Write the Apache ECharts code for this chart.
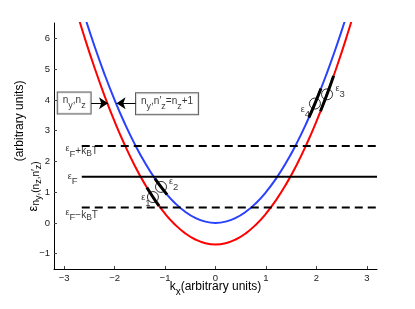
<!DOCTYPE html>
<html><head><meta charset="utf-8">
<script src="https://cdn.jsdelivr.net/npm/echarts@6/dist/echarts.min.js"></script>
<style>html,body{margin:0;padding:0;background:#fff}#c{width:415px;height:309px}</style>
</head><body><div id="c"></div>
<script>
// data
var kValues = [-2.8,-2.6,-2.4,-2.2,-2.0,-1.8,-1.6,-1.4,-1.2,-1.0,-0.8,-0.6,-0.4,-0.2,0,0.2,0.4,0.6,0.8,1.0,1.2,1.4,1.6,1.8,2.0,2.2,2.4,2.6,2.8];
var blueBand = [7.84,6.76,5.76,4.84,4.0,3.24,2.56,1.96,1.44,1.0,0.64,0.36,0.16,0.04,0,0.04,0.16,0.36,0.64,1.0,1.44,1.96,2.56,3.24,4.0,4.84,5.76,6.76,7.84];
var redBand = [7.14,6.06,5.06,4.14,3.3,2.54,1.86,1.26,0.74,0.3,-0.06,-0.34,-0.54,-0.66,-0.7,-0.66,-0.54,-0.34,-0.06,0.3,0.74,1.26,1.86,2.54,3.3,4.14,5.06,6.06,7.14];
var levelY = {upper: 2.5, fermi: 1.5, lower: 0.5};
var levelRange = [-2.65, 3.2];
var xTicks = [-3,-2,-1,0,1,2,3];
var yTicks = [-1,0,1,2,3,4,5,6];
// states (circles) and black segments along the bands
var statePoints = [[-1.24,0.84],[-1.08,1.17],[2.21,4.18],[1.97,3.88]];
var seg1 = [[-1.36,1.15],[-1.24,0.84],[-1.12,0.55]];
var seg2 = [[-1.2,1.44],[-1.08,1.17],[-0.96,0.92]];
var seg3 = [[2.08,3.63],[2.21,4.18],[2.34,4.78]];
var seg4 = [[1.85,3.42],[1.97,3.88],[2.09,4.37]];
var stateLabels = [[-1.38,0.73,'1'],[-0.83,1.24,'2'],[2.47,4.26,'3'],[1.78,3.6,'4']];
var levelLabels = [[-2.65,2.32,'upper'],[-2.83,1.42,'fermi'],[-2.65,0.25,'lower']];
var boxLeft = [-2.80,3.9];
var boxRight = [-0.96,3.87];
var arrowLeft = [[-2.47,3.89],[-2.13,3.89]];
var arrowRight = [[-1.56,3.89],[-1.96,3.89]];

var toPair = function(xs, ys){ return xs.map(function(x,i){return [x, ys[i]];}); };
var minus = function(v){ return String(v).replace('-', '\u2212'); };
var richSmall = {
  e: {fontSize: 9, fontFamily: 'Liberation Sans', color: '#000', verticalAlign: 'top', lineHeight: 15},
  s: {fontSize: 9.5, fontFamily: 'Liberation Sans', color: '#000', padding: [5,0,0,0], lineHeight: 15},
  t: {fontSize: 10, fontFamily: 'Liberation Sans', color: '#000', lineHeight: 15},
  u: {fontSize: 8.5, fontFamily: 'Liberation Sans', color: '#000', padding: [5,0,0,0], lineHeight: 15}
};
var levelText = {
  upper: '{e|\u03b5}{s|F}{t|+k}{u|B}{t|T}',
  fermi: '{e|\u03b5}{s|F}',
  lower: '{e|\u03b5}{s|F}{t|\u2212k}{u|B}{t|T}'
};

var chart = echarts.init(document.getElementById('c'), null, {renderer: 'canvas'});
var segStyle = {type:'line', smooth:true, symbol:'none', lineStyle:{color:'#000', width:3}, z:4, silent:true};
chart.setOption({
  animation: false,
  backgroundColor: '#fff',
  grid: {left: 54, right: 38, top: 23, bottom: 40},
  xAxis: {
    type: 'value', min: -3.2, max: 3.2,
    axisLine: {onZero: false, lineStyle: {color: '#000', width: 1}},
    axisTick: {customValues: xTicks, inside: true, length: 3, lineStyle: {color: '#444'}},
    axisLabel: {customValues: xTicks, formatter: minus, fontSize: 9.5, color: '#222', fontFamily: 'Liberation Sans', margin: 4},
    splitLine: {show: false},
    name: '{k|k}{x|x}{k|(arbitrary units)}', nameLocation: 'middle', nameGap: 12, nameMoveOverlap: false,
    nameTextStyle: {rich: {
      k: {fontSize: 12, fontFamily: 'Liberation Sans', color: '#000', lineHeight: 16, verticalAlign: 'top'},
      x: {fontSize: 10, fontFamily: 'Liberation Sans', color: '#000', padding: [7,0,0,0], lineHeight: 16}
    }}
  },
  yAxis: {
    type: 'value', min: -1.5, max: 6.5,
    axisLine: {onZero: false, lineStyle: {color: '#000', width: 1}},
    axisTick: {customValues: yTicks, inside: true, length: 3, lineStyle: {color: '#444'}},
    axisLabel: {customValues: yTicks, formatter: minus, fontSize: 9.5, color: '#222', fontFamily: 'Liberation Sans', margin: 4},
    splitLine: {show: false},
    name: '{e|\u03b5}{n|n}{y|y}{n|,(n}{y|z}{n|,n\u2032}{y|z}{n|)}{k|(arbitrary units)}',
    nameLocation: 'middle', nameRotate: 90, nameGap: 10, nameMoveOverlap: false,
    nameTextStyle: {rich: {
      e: {fontSize: 13, fontFamily: 'Liberation Sans', color: '#000', lineHeight: 30, padding: [8,0,0,0]},
      n: {fontSize: 10, fontFamily: 'Liberation Sans', color: '#000', padding: [15,0,0,0], lineHeight: 30},
      y: {fontSize: 9, fontFamily: 'Liberation Sans', color: '#000', padding: [20,0,0,0], lineHeight: 30},
      k: {fontSize: 12, fontFamily: 'Liberation Sans', color: '#000', lineHeight: 30, verticalAlign: 'top'}
    }}
  },
  series: [
    {type:'line', data: toPair(kValues, redBand), smooth:true, symbol:'none', lineStyle:{color:'#ff0000', width:2}, z:2, silent:true},
    {type:'line', data: toPair(kValues, blueBand), smooth:true, symbol:'none', lineStyle:{color:'#2a40ff', width:2}, z:2, silent:true},
    {type:'line', data: [[levelRange[0], levelY.upper],[levelRange[1], levelY.upper]], symbol:'none', lineStyle:{color:'#000', width:2, type:[8,5]}, z:3, silent:true},
    {type:'line', data: [[levelRange[0], levelY.fermi],[levelRange[1], levelY.fermi]], symbol:'none', lineStyle:{color:'#000', width:2}, z:3, silent:true},
    {type:'line', data: [[levelRange[0], levelY.lower],[levelRange[1], levelY.lower]], symbol:'none', lineStyle:{color:'#000', width:2, type:[8,5]}, z:3, silent:true},
    Object.assign({data: seg1}, segStyle),
    Object.assign({data: seg2}, segStyle),
    Object.assign({data: seg3}, segStyle),
    Object.assign({data: seg4}, segStyle),
    {type:'scatter', data: statePoints, symbol:'circle', symbolSize: 11, itemStyle:{color:'rgba(0,0,0,0)', borderColor:'#000', borderWidth:1}, z:5, silent:true},
    {type:'scatter', data: stateLabels.map(function(d){return {value:[d[0],d[1]], name:d[2]};}), symbolSize: 0, z:6, silent:true,
      label:{show:true, position:'inside', formatter: function(p){return '{e|\u03b5}{s|' + p.name + '}';}, rich: richSmall}},
    {type:'scatter', data: levelLabels.map(function(d){return {value:[d[0],d[1]], name:d[2]};}), symbolSize: 0, z:6, silent:true,
      label:{show:true, position:'inside', formatter: function(p){return levelText[p.name];}, rich: richSmall}},
    {type:'scatter', data: [{value: boxLeft, name:'L'}, {value: boxRight, name:'R'}], symbolSize: 0, z:6, silent:true,
      label:{show:true, position:'inside', backgroundColor:'#fff', borderColor:'#333', borderWidth:1, padding:[2,5,3,5],
        formatter: function(p){ return p.name === 'L' ? '{t|n}{s|y}{t|,n}{s|z}' : '{t|n}{s|y}{t|,n\u2032}{s|z}{t|=n}{s|z}{t|+1}'; },
        rich: {
          t: {fontSize: 10, fontFamily: 'Liberation Sans', color: '#000', lineHeight: 16, verticalAlign: 'top', padding:[1,0,0,0]},
          s: {fontSize: 9, fontFamily: 'Liberation Sans', color: '#000', padding: [6,0,0,0], lineHeight: 16}
        }}},
    {type:'line', data: [], silent:true, z:7,
      markLine: {silent:true, symbol:['none','arrow'], symbolSize:9, label:{show:false},
        lineStyle:{color:'#000', width:1, type:'solid'},
        data: [
          [{coord: arrowLeft[0]}, {coord: arrowLeft[1]}],
          [{coord: arrowRight[0]}, {coord: arrowRight[1]}]
        ]}}
  ]
});
</script></body></html>
